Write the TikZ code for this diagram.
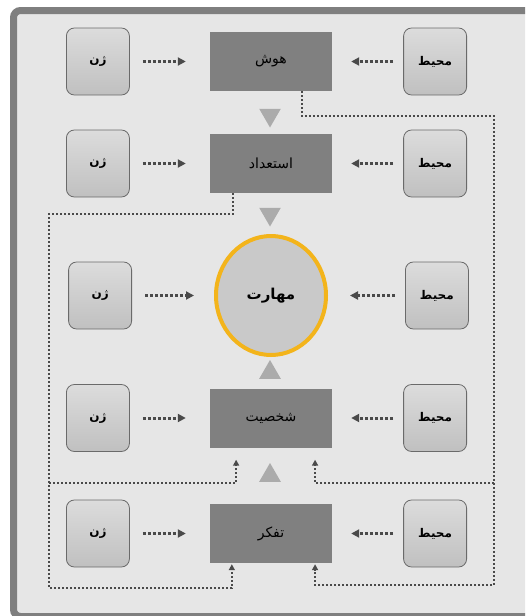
\documentclass[tikz,border=0pt]{standalone}
\usepackage{fontspec}
\usepackage{tikz}
\usetikzlibrary{positioning,shapes.geometric,arrows.meta,calc}
\TeXXeTstate=1
\newfontfamily\farsi[Script=Arabic]{DejaVu Sans}
\newcommand{\fatext}[1]{{\farsi\beginR #1\endR}}

\definecolor{panel}{HTML}{E6E6E6}
\definecolor{framegray}{HTML}{7F7F7F}
\definecolor{traitgray}{HTML}{808080}
\definecolor{boxtop}{HTML}{DCDCDC}
\definecolor{boxbot}{HTML}{C0C0C0}
\definecolor{boxline}{HTML}{6A6A6A}
\definecolor{skillfill}{HTML}{C9C9C9}
\definecolor{skillring}{HTML}{F3B41B}
\definecolor{trigray}{HTML}{ABABAB}
\definecolor{dotgray}{HTML}{4A4A4A}

\tikzset{
  trait/.style={rectangle,fill=traitgray,inner sep=0pt,
    minimum width=122pt,minimum height=59pt,
    font=\fontsize{14}{16}\selectfont},
  factor/.style={rectangle,rounded corners=8pt,draw=boxline,line width=0.8pt,
    top color=boxtop,bottom color=boxbot,inner sep=0pt,
    minimum width=63pt,minimum height=67pt,
    font=\bfseries\fontsize{12}{14}\selectfont},
  skill/.style={ellipse,draw=skillring,line width=4pt,fill=skillfill,
    inner sep=0pt,minimum width=110pt,minimum height=119pt,
    font=\bfseries\fontsize{15}{17}\selectfont},
  flowtri/.style={regular polygon,regular polygon sides=3,fill=trigray,
    minimum size=25pt,inner sep=0pt},
  flowdown/.style={flowtri,shape border rotate=180},
  inflow/.style={draw=dotgray,line width=3pt,dash pattern=on 3pt off 2pt,
    -{Triangle[length=8pt,width=8pt]}},
  genein/.style={inflow,shorten <=13pt,shorten >=24pt},
  envin/.style={inflow,shorten <=10pt,shorten >=19pt},
  feedback/.style={draw=dotgray,line width=2pt,dash pattern=on 2pt off 2pt,
    -{Triangle[length=6pt,width=6pt]}}
}

\begin{document}
\begin{tikzpicture}[x=1pt,y=-1pt]
  \useasboundingbox (0,0) rectangle (525,616);
  \clip (0,0) rectangle (525,616);

  % panel
  \draw[draw=framegray,line width=7pt,fill=panel,rounded corners=7pt]
    (13.5,10.5) rectangle (545,616.5);

  % middle column
  \node[trait] (hush) at (271,61.5) {\fatext{هوش}};
  \node[trait] (estedad) at (271,163.5) {\fatext{استعداد}};
  \node[skill] (maharat) at (271,295.5) {\fatext{مهارت}};
  \node[trait] (shakhsiat) at (271,418) {\fatext{شخصیت}};
  \node[trait] (tafakkor) at (271,533.5) {\fatext{تفکر}};

  \node[flowdown] (t1) at (270,115) {};
  \node[flowdown] (t2) at (270,214) {};
  \node[flowtri] (t3) at (270,372.5) {};
  \node[flowtri] (t4) at (270,475.5) {};

  % gene and environment boxes
  \node[factor,left=80pt of hush] (g1) {\fatext{ژن}};
  \node[factor,right=71pt of hush] (e1) {\fatext{محیط}};
  \node[factor,left=80pt of estedad] (g2) {\fatext{ژن}};
  \node[factor,right=71pt of estedad] (e2) {\fatext{محیط}};
  \node[factor,left=82pt of maharat] (g3) {\fatext{ژن}};
  \node[factor,right=77pt of maharat] (e3) {\fatext{محیط}};
  \node[factor,left=80pt of shakhsiat] (g4) {\fatext{ژن}};
  \node[factor,right=71pt of shakhsiat] (e4) {\fatext{محیط}};
  \node[factor,left=80pt of tafakkor] (g5) {\fatext{ژن}};
  \node[factor,right=71pt of tafakkor] (e5) {\fatext{محیط}};

  \draw[genein] (g1) -- (hush);
  \draw[envin] (e1) -- (hush);
  \draw[genein] (g2) -- (estedad);
  \draw[envin] (e2) -- (estedad);
  \draw[genein,shorten >=20pt] (g3) -- (maharat);
  \draw[envin,shorten >=22pt] (e3) -- (maharat);
  \draw[genein] (g4) -- (shakhsiat);
  \draw[envin] (e4) -- (shakhsiat);
  \draw[genein] (g5) -- (tafakkor);
  \draw[envin] (e5) -- (tafakkor);

  % feedback loops
  \coordinate (rtop) at (494,116);
  \coordinate (rmid) at (494,483);
  \coordinate (rbot) at (494,585);
  \coordinate (ltop) at (49,214);
  \coordinate (lmid) at (49,483);
  \coordinate (lbot) at (49,588);

  \draw[feedback,shorten >=1pt] ($(hush.south)!0.5!(hush.south east)$) |- (rtop)
    -- (rbot) -| ($(tafakkor.south)!0.72!(tafakkor.south east)$);
  \draw[feedback,shorten >=12pt] (rmid)
    -| ($(shakhsiat.south)!0.72!(shakhsiat.south east)$);
  \draw[feedback,shorten >=1pt] ($(estedad.south)!0.62!(estedad.south west)$) |- (ltop)
    -- (lbot) -| ($(tafakkor.south)!0.64!(tafakkor.south west)$);
  \draw[feedback,shorten >=12pt] (lmid)
    -| ($(shakhsiat.south)!0.57!(shakhsiat.south west)$);
\end{tikzpicture}
\end{document}
